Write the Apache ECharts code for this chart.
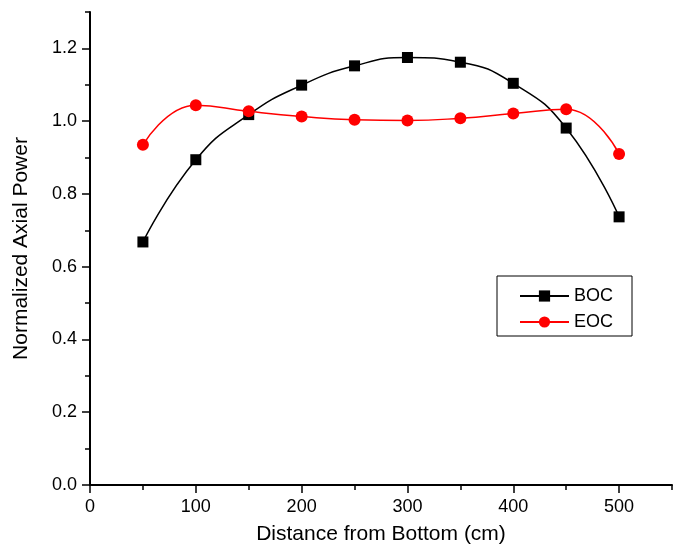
<!DOCTYPE html>
<html>
<head>
<meta charset="utf-8">
<script src="https://cdn.jsdelivr.net/npm/echarts@6/dist/echarts.min.js"></script>
<style>
  html, body { margin: 0; padding: 0; background: #fff; }
  #chart { width: 680px; height: 546px; }
</style>
</head>
<body>
<div id="chart"></div>
<script>
  const distance = [50, 100, 150, 200, 250, 300, 350, 400, 450, 500];
  const boc = [0.668, 0.894, 1.018, 1.099, 1.152, 1.175, 1.162, 1.104, 0.981, 0.737];
  const eoc = [0.935, 1.044, 1.027, 1.013, 1.004, 1.002, 1.008, 1.021, 1.033, 0.910];
  const xMajor = [0, 100, 200, 300, 400, 500];
  const xMinor = [50, 150, 250, 350, 450, 550];
  const yMajor = [0, 0.2, 0.4, 0.6, 0.8, 1.0, 1.2];
  const yMinor = [0.1, 0.3, 0.5, 0.7, 0.9, 1.1, 1.3];

  const font = '"Liberation Sans", Arial, sans-serif';
  const chart = echarts.init(document.getElementById('chart'), null, { renderer: 'canvas' });

  function pairs(ys) {
    return distance.map(function (x, i) { return [x, ys[i]]; });
  }

  const axisLine = { show: true, onZero: false, lineStyle: { color: '#000', width: 2 } };

  chart.setOption({
    animation: false,
    textStyle: { fontFamily: font },
    grid: { left: 90, right: 8, top: 12, bottom: 61, outerBoundsMode: 'none' },
    legend: {
      orient: 'vertical',
      left: 497,
      top: 276,
      padding: [11, 19, 5, 22],
      borderColor: '#000',
      borderWidth: 1,
      itemWidth: 49,
      itemHeight: 14,
      itemGap: 8,
      textStyle: { fontSize: 18, color: '#000', fontFamily: font },
      data: ['BOC', 'EOC']
    },
    xAxis: [
      {
        type: 'value', min: 0, max: 550, position: 'bottom',
        name: 'Distance from Bottom (cm)', nameLocation: 'middle', nameGap: 39,
        nameTextStyle: { fontSize: 21, color: '#000', fontFamily: font },
        axisLine: axisLine,
        axisTick: { show: true, inside: false, length: 8, customValues: xMajor, lineStyle: { color: '#000', width: 1.5 } },
        axisLabel: { customValues: xMajor, margin: 13, fontSize: 18, color: '#000', fontFamily: font },
        splitLine: { show: false }
      },
      {
        type: 'value', min: 0, max: 550, position: 'bottom',
        axisLine: { show: false },
        axisTick: { show: true, inside: false, length: 5, customValues: xMinor, lineStyle: { color: '#000', width: 1.5 } },
        axisLabel: { show: false },
        splitLine: { show: false }
      }
    ],
    yAxis: [
      {
        type: 'value', min: 0, max: 1.3, position: 'left',
        name: 'Normalized Axial Power', nameLocation: 'middle', nameGap: 58,
        nameTextStyle: { fontSize: 21, color: '#000', fontFamily: font },
        axisLine: axisLine,
        axisTick: { show: true, inside: false, length: 8, customValues: yMajor, lineStyle: { color: '#000', width: 1.5 } },
        axisLabel: {
          customValues: yMajor, margin: 13, fontSize: 18, color: '#000', fontFamily: font,
          formatter: function (v) { return v.toFixed(1); }
        },
        splitLine: { show: false }
      },
      {
        type: 'value', min: 0, max: 1.3, position: 'left',
        axisLine: { show: false },
        axisTick: { show: true, inside: false, length: 5, customValues: yMinor, lineStyle: { color: '#000', width: 1.5 } },
        axisLabel: { show: false },
        splitLine: { show: false }
      }
    ],
    series: [
      {
        name: 'BOC', type: 'line', smooth: 0.5,
        symbol: 'rect', symbolSize: 11,
        lineStyle: { color: '#000', width: 1.5 },
        itemStyle: { color: '#000' },
        data: pairs(boc)
      },
      {
        name: 'EOC', type: 'line', smooth: 0.5,
        symbol: 'circle', symbolSize: 12,
        lineStyle: { color: '#ff0000', width: 1.5 },
        itemStyle: { color: '#ff0000' },
        data: pairs(eoc)
      }
    ]
  });
</script>
</body>
</html>
